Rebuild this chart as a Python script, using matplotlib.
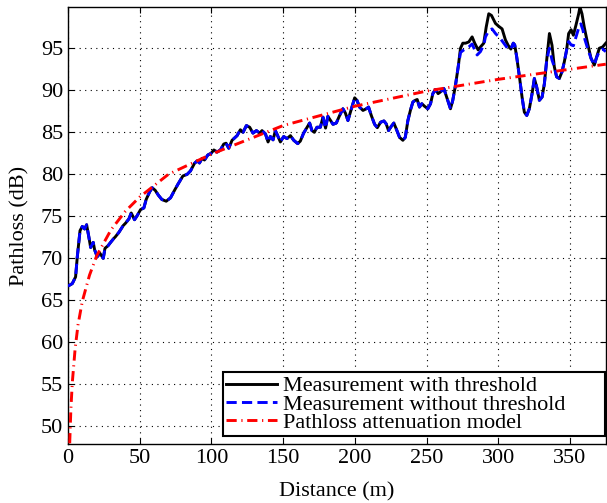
import matplotlib
matplotlib.use("Agg")
import matplotlib.pyplot as plt

# ---- data ----
dist_with = [0, 3, 5.3, 6.5, 8.4, 10, 11.6, 13, 14.6, 15.8, 17.6, 18.6, 20.4, 22.3, 24.6, 25.8,
             27.9, 29.7, 31.6, 33.2, 35.5, 38.5, 40.2, 42.5, 44.1, 46.4, 48.3, 50.6,
             52.9, 54.5, 56.9, 58.7, 60.8, 63.1, 65.5, 68.5, 71.5, 74.3, 76.6, 80.1, 83.1, 85.4,
             88.2, 90.1, 91.7, 93.5, 95.2, 97.5, 99.8, 101.7, 104, 106.3, 108.6, 110.2,
             112.1, 114.4, 117.9, 120.2, 122.1, 124.4, 126.7, 129, 131.4, 133.7, 135.3, 137.7,
             139.5, 141.1, 143, 144.6, 146.2, 148.1, 150.4, 152.7, 155.1, 157.4, 160.2, 162,
             164.3, 166.7, 168.5, 170.1, 171.8, 173.6, 176, 177.8, 179.6, 181.2, 184.8, 187.1,
             189.4, 191.7, 193.4, 195.2, 197.6, 199.9, 201.5, 203.3, 205.7, 208, 209.6, 211.5,
             213.8, 215.7, 218, 220.3, 221.9, 223.5, 225.4, 227.2, 228.9, 231.2, 233.5, 235.2,
             237, 238.9, 240.5, 242.1, 243.5, 245.1, 246.7, 248.6, 250.9, 252.8, 254.4, 256.3,
             258.1, 259.7, 262.1, 264.4, 266.7, 268.3, 270.2, 272.1, 273.7, 275.3, 277.2, 279.5,
             281.8, 283.6, 286, 287.6, 289.9, 291.6, 293.4, 295.3, 298.1, 300.4, 302.7, 305,
             306.9, 308.8, 310.5, 311.5, 312.9, 314.8, 316.6, 318.2, 319.9, 321.7, 323.6, 325.2,
             326.8, 328.7, 330.6, 332.2, 333.8, 335.7, 337.5, 339.1, 340.7, 342.6, 344.5, 346.1,
             347.7, 349.1, 350.8, 352.4, 354.2, 356.1, 357, 358.4, 360, 362.3, 364.7, 367,
             368.6, 370.5, 372.8, 375]
loss_with = [66.7, 67.0, 67.8, 70.2, 73.3, 73.8, 73.5, 74.0, 72.5, 71.3, 71.9, 71.0, 70.2, 70.6, 70.0, 71.2,
             71.5, 71.9, 72.3, 72.6, 73.1, 73.9, 74.2, 74.7, 75.4, 74.6, 75.1, 75.8,
             76.0, 77.0, 77.9, 78.4, 78.1, 77.5, 77.0, 76.8, 77.2, 78.1, 78.8, 79.8, 80.0, 80.4,
             81.3, 81.6, 81.35, 81.9, 81.7, 82.3, 82.5, 82.9, 82.65, 82.9, 83.6, 83.7,
             83.1, 84.05, 84.6, 85.3, 85.0, 85.8, 85.6, 84.9, 85.2, 84.9, 85.2, 84.8,
             83.85, 84.5, 84.1, 85.2, 84.6, 83.85, 84.5, 84.25, 84.6, 84.05, 83.65, 83.95,
             84.9, 85.6, 86.1, 85.2, 85.0, 85.6, 85.6, 86.8, 85.5, 86.9, 85.95, 86.1,
             87.0, 87.8, 87.3, 86.4, 87.8, 89.1, 88.8, 88.0, 87.6, 87.8, 88.0, 87.0,
             85.95, 85.55, 86.2, 86.35, 86.0, 85.2, 85.7, 86.1, 85.4, 84.4, 84.05, 84.4,
             86.4, 87.7, 88.6, 88.8, 88.9, 88.0, 88.4, 88.1, 87.8, 88.4, 89.6, 90.1,
             89.6, 89.8, 90.2, 89.0, 87.8, 88.8, 90.6, 92.8, 95.0, 95.6, 95.6, 95.75,
             96.35, 95.6, 94.8, 95.15, 95.6, 97.5, 99.1, 98.9, 97.95, 97.6, 97.3, 96.0,
             95.35, 94.9, 95.6, 95.4, 93.95, 91.6, 89.2, 87.4, 87.0, 87.8, 89.6, 91.4,
             90.4, 88.8, 89.2, 90.8, 93.6, 96.75, 95.35, 92.8, 91.6, 91.4, 92.2, 93.4,
             94.8, 96.75, 97.2, 96.55, 97.75, 99.1, 99.9, 99.1, 97.5, 95.6, 93.8, 93.0,
             93.95, 95.0, 95.15, 95.6]

dist_without = [0, 3, 5.3, 6.5, 8.4, 10, 11.6, 13, 14.6, 15.8, 17.6, 18.6, 20.4, 22.3, 24.6, 25.8,
                27.9, 29.7, 31.6, 33.2, 35.5, 38.5, 40.2, 42.5, 44.1, 46.4, 48.3, 50.6,
                52.9, 54.5, 56.9, 58.7, 60.8, 63.1, 65.5, 68.5, 71.5, 74.3, 76.6, 80.1, 83.1, 85.4,
                88.2, 90.1, 91.7, 93.5, 95.2, 97.5, 99.8, 101.7, 104, 106.3, 108.6, 110.2,
                112.1, 114.4, 117.9, 120.2, 122.1, 124.4, 126.7, 129, 131.4, 133.7, 135.3, 137.7,
                139.5, 141.1, 143, 144.6, 146.2, 148.1, 150.4, 152.7, 155.1, 157.4, 160.2, 162,
                164.3, 166.7, 168.5, 170.1, 171.8, 173.6, 176, 177.8, 179.6, 181.2, 184.8, 187.1,
                189.4, 191.7, 193.4, 195.2, 197.6, 199.9, 201.5, 203.3, 205.7, 208, 209.6, 211.5,
                213.8, 215.7, 218, 220.3, 221.9, 223.5, 225.4, 227.2, 228.9, 231.2, 233.5, 235.2,
                237, 238.9, 240.5, 242.1, 243.5, 245.1, 246.7, 248.6, 250.9, 252.8, 254.4, 256.3,
                258.1, 259.7, 262.1, 264.4, 266.7, 268.3, 270.2, 272.1, 273.7, 276, 279.5,
                281.8, 283.6, 285.3, 287.6, 289.9, 291.1, 293.4, 295.7, 298.1, 301.5, 305,
                306.9, 308.8, 310.5, 311.5, 312.9, 314.8, 316.6, 318.2, 319.9, 321.7, 323.6, 325.2,
                326.8, 328.7, 330.6, 332.2, 333.8, 335.7, 337.5, 339.1, 340.7, 342.6, 344.5, 346.1,
                347.7, 349.1, 350.8, 352.4, 354.2, 356.1, 357.6, 359, 360.5, 362.3, 364.7, 367,
                368.6, 370.5, 372.8, 375]
loss_without = [66.7, 67.0, 67.8, 70.2, 73.3, 73.8, 73.5, 74.0, 72.5, 71.3, 71.9, 71.0, 70.2, 70.6, 70.0, 71.2,
                71.5, 71.9, 72.3, 72.6, 73.1, 73.9, 74.2, 74.7, 75.4, 74.6, 75.1, 75.8,
                76.0, 77.0, 77.9, 78.4, 78.1, 77.5, 77.0, 76.8, 77.2, 78.1, 78.8, 79.8, 80.0, 80.4,
                81.3, 81.6, 81.35, 81.9, 81.7, 82.3, 82.5, 82.9, 82.65, 82.9, 83.6, 83.7,
                83.1, 84.05, 84.6, 85.3, 85.0, 85.8, 85.6, 84.9, 85.2, 84.9, 85.2, 84.8,
                83.85, 84.5, 84.1, 85.2, 84.6, 83.85, 84.5, 84.25, 84.6, 84.05, 83.65, 83.95,
                84.9, 85.6, 86.1, 85.2, 85.0, 85.6, 85.6, 86.8, 85.5, 86.9, 85.95, 86.1,
                87.0, 87.8, 87.3, 86.4, 87.8, 89.1, 88.8, 88.0, 87.6, 87.8, 88.0, 87.0,
                85.95, 85.55, 86.2, 86.35, 86.0, 85.2, 85.7, 86.1, 85.4, 84.4, 84.05, 84.4,
                86.4, 87.7, 88.6, 88.8, 88.9, 88.0, 88.4, 88.1, 87.8, 88.4, 89.6, 90.1,
                89.6, 89.8, 90.2, 89.0, 87.8, 88.8, 90.6, 92.8, 94.5, 94.8, 95.15,
                95.5, 94.8, 94.2, 94.6, 95.4, 96.35, 97.1, 97.3, 96.75, 96.15, 95.35,
                94.9, 94.9, 95.6, 95.4, 93.95, 91.6, 89.2, 87.4, 87.0, 87.8, 89.6, 91.4,
                90.4, 88.8, 89.2, 90.8, 93.6, 95.0, 93.6, 92.8, 91.6, 91.4, 92.2, 93.4,
                94.8, 95.8, 95.4, 95.3, 96.3, 97.4, 97.9, 97.2, 96.0, 95.0, 93.8, 93.0,
                93.9, 94.6, 94.9, 94.6]

dist_model = [1.2, 2, 3, 5, 7, 10, 15, 20, 30, 40, 50, 70, 100, 150, 200, 250, 300, 375]
loss_model = [48.0, 52.0, 55.2, 59.3, 62.1, 64.9, 68.0, 70.3, 73.4, 75.6, 77.3, 80.0, 82.4, 85.8,
              88.1, 89.9, 91.3, 93.1]

labels = ["Measurement with threshold", "Measurement without threshold",
          "Pathloss attenuation model"]
xticks = [0, 50, 100, 150, 200, 250, 300, 350]
yticks = [50, 55, 60, 65, 70, 75, 80, 85, 90, 95]

# ---- plot ----
plt.rcParams['font.family'] = ['Liberation Serif', 'DejaVu Serif']
plt.rcParams['mathtext.fontset'] = 'stix'

fig = plt.figure(figsize=(6.07, 5.03), dpi=100)
ax = fig.add_axes([0.112, 0.117, 0.886, 0.869])

ax.plot(dist_with, loss_with, color='black', lw=2.1, ls='-', label=labels[0], zorder=3)
ax.plot(dist_without, loss_without, color='#0000ff', lw=2.1, ls=(0, (3.5, 1.8)),
        label=labels[1], zorder=4)
ax.plot(dist_model, loss_model, color='#ff0000', lw=2.1, ls=(0, (3.5, 1.6, 0.4, 1.6)),
        label=labels[2], zorder=5)

ax.set_xlim(0, 375)
ax.set_ylim(47.9, 99.9)
ax.set_xticks(xticks)
ax.set_yticks(yticks)
ax.tick_params(direction='in', top=True, right=True, labelsize=16, length=4, width=0.8)
ax.grid(True, color='black', ls=(0, (1, 4)), lw=0.8)
for s in ax.spines.values():
    s.set_linewidth(1.0)

ax.set_xlabel("Distance (m)", fontsize=16, labelpad=10)
ax.set_ylabel("Pathloss (dB)", fontsize=16, labelpad=8)

leg = ax.legend(loc='lower left', bbox_to_anchor=(0.288, 0.018, 0.710, 0.14), mode='expand',
                fontsize=16, frameon=True, fancybox=False,
                edgecolor='black', framealpha=1, borderpad=0.15, labelspacing=-0.1,
                handlelength=2.3, handletextpad=0.25, borderaxespad=0.0)
leg.get_frame().set_linewidth(1.5)

fig.savefig("out.png", dpi=100)
